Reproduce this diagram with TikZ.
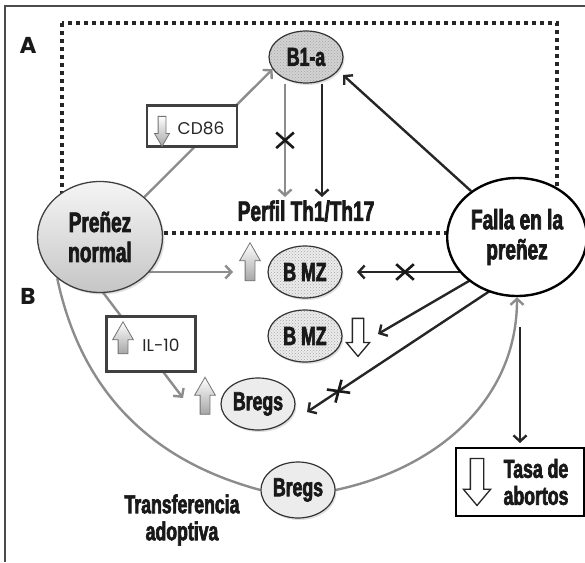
\documentclass[tikz,border=0pt]{standalone}
\usepackage{fontspec}
\usepackage{tikz}
\usetikzlibrary{shapes.geometric}
\usetikzlibrary{shapes.arrows}
\usetikzlibrary{shapes.misc}
\usetikzlibrary{arrows.meta}
\usetikzlibrary{patterns}
\usetikzlibrary{shadows}
\usetikzlibrary{backgrounds}
\newfontfamily\condfont{Liberation Sans}[FakeStretch=0.68, BoldFeatures={FakeBold=2.5}]
\newfontfamily\geofont{Poppins}
\tikzset{>={Straight Barb[length=6pt,width=13pt]}}
\tikzset{
	cell/.style={ellipse, draw=black!80, line width=1.2pt, minimum width=74pt, minimum height=52pt, inner sep=0pt, text=black!90, font=\condfont\bfseries\fontsize{26}{28}\selectfont, drop shadow={opacity=0.25,shadow xshift=1.5pt,shadow yshift=-2pt}},
	dotfill/.style={preaction={fill=#1}, pattern=crosshatch dots, pattern color=black!35},
	bigtxt/.style={text=black!90, align=center, font=\condfont\bfseries\fontsize{28}{30}\selectfont},
	midtxt/.style={text=black!90, align=center, font=\condfont\bfseries\fontsize{26}{27}\selectfont},
	smalltxt/.style={text=black!85, font=\geofont\fontsize{17}{19}\selectfont},
	infobox/.style={draw=black!75, line width=2.2pt, fill=white, inner sep=0pt},
	uparrow/.style={single arrow, shape border rotate=90, draw=black!55, line width=0.8pt, top color=white, bottom color=gray!70, inner sep=4.5pt, single arrow head extend=5.5pt, single arrow tip angle=60, minimum height=#1},
	downhollow/.style={single arrow, shape border rotate=270, draw=black!85, line width=1.3pt, fill=white, inner sep=5pt, single arrow head extend=6pt, single arrow tip angle=80, minimum height=#1},
	grayline/.style={draw=black!45, line width=2.4pt},
	blackline/.style={draw=black!85, line width=2.4pt},
	xmark/.style={cross out, draw=black!90, line width=2.6pt, minimum width=15pt, minimum height=13pt, inner sep=0pt}
}

\begin{document}
\begin{tikzpicture}[x=1pt,y=-1pt]
	\useasboundingbox (0,0) rectangle (585,562);
	% frame and dotted box A
	\draw[draw=black!70, line width=1.6pt] (585,6) -- (5,6) -- (5,562);
	\draw[draw=black!85, line width=3.5pt, dash pattern=on 4pt off 4pt] (62,23) rectangle (557,233);
	\node[font=\geofont\bfseries\fontsize{23}{23}\selectfont, text=black!90] (labA) at (28,45) {A};
	\node[font=\geofont\bfseries\fontsize{23}{23}\selectfont, text=black!90] (labB) at (28,296) {B};

	\node[ellipse, draw=black!75, line width=1.3pt, minimum width=125pt, minimum height=111pt, top color=gray!8, bottom color=gray!45, drop shadow={opacity=0.25,shadow xshift=2pt,shadow yshift=-2pt}, bigtxt] (prenez) at (100,237) {Preñez\\normal};
	\node[ellipse, draw=black, line width=2.4pt, minimum width=125pt, minimum height=118pt, fill=white, bigtxt] (falla) at (517,237) {Falla en la\\preñez};

	\node[cell, dotfill=gray!35] (b1a) at (306,57) {B1-a};
	\node[midtxt, font=\condfont\bfseries\fontsize{28}{28}\selectfont] (perfil) at (306,211) {Perfil Th1/Th17};
	\node[cell, dotfill=gray!15] (bmz1) at (305,272) {B MZ};
	\node[cell, dotfill=gray!15] (bmz2) at (305,336) {B MZ};
	\node[cell, fill=gray!15] (bregs1) at (258,404) {Bregs};
	\node[cell, fill=gray!15, minimum height=56pt] (bregs2) at (298,490) {Bregs};
	\node[midtxt] (transf) at (182,520) {Transferencia\\adoptiva};

	\node[uparrow=38pt] (mzup) at (250,266) {};
	\node[downhollow=38pt] (mzdown) at (358,334) {};
	\node[uparrow=37pt] (bregsup) at (205,400) {};

	\node[infobox, minimum width=90pt, minimum height=41pt] (cdbox) at (192,126) {};
	\node[uparrow=30pt, shape border rotate=270, inner sep=3.5pt, single arrow head extend=3.5pt] (cdarrow) at (162,128) {};
	\node[smalltxt] (cdtext) at (201,128) {CD86};

	\node[infobox, minimum width=89pt, minimum height=55pt] (ilbox) at (151,344) {};
	\node[uparrow=32pt] (ilarrow) at (123,342) {};
	\node[smalltxt] (iltext) at (161,345) {IL-10};

	\node[draw=black, line width=2pt, fill=white, minimum width=128pt, minimum height=68pt] (tasa) at (520,482) {};
	\node[downhollow=47pt, inner sep=6pt, single arrow head extend=7pt] (tasaarrow) at (477,478) {};
	\node[midtxt] (tasatext) at (536,482) {Tasa de\\abortos};
	\coordinate (tasatop) at (520,327);

	\begin{scope}[on background layer]
		\path [->] (prenez.42) edge[grayline] (b1a.200);
		\path [->] ([xshift=-21pt]b1a.south) edge[grayline] node[xmark]{} ([xshift=-21pt]b1a.south |- perfil.north);
		\path [->] ([xshift=16pt]b1a.south) edge[blackline] ([xshift=16pt]b1a.south |- perfil.north);
		\path [->] (falla.135) edge[blackline] ([shift={(37pt,-18pt)}]b1a.center);
		\path [->] (prenez.center |- bmz1.center) edge[grayline] ([xshift=-72pt]bmz1.center);
		\path [->] (falla.center |- bmz1.center) edge[blackline] node[xmark, pos=0.7]{} ([xshift=52pt]bmz1.center);
		\path [->] ([yshift=-16pt]falla.center) edge[blackline] ([xshift=20pt]mzdown.center);
		\path [->] ([yshift=-36pt]falla.center) edge[blackline] node[xmark, sloped, pos=0.85]{} ([shift={(49pt,-8pt)}]bregs1.center);
		\path [->] ([xshift=-39pt]prenez.center) edge[grayline] ([shift={(-22pt,2pt)}]bregsup.center);
		\path (prenez.224) edge[grayline, out=-78, in=165] (bregs2.west);
		\path [->] (bregs2.east) edge[grayline, out=12, in=-90] (falla.south);
		\path [->] (tasatop) edge[blackline, shorten >=4pt] (tasa.north);
	\end{scope}
\end{tikzpicture}
\end{document}
